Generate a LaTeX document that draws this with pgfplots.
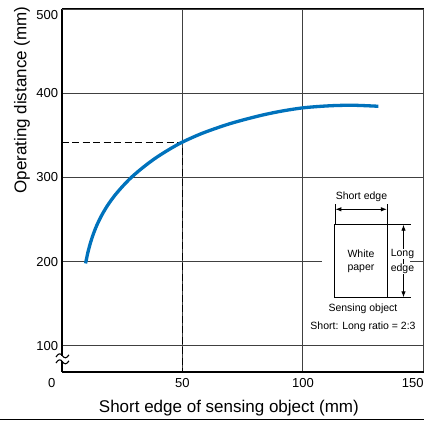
\documentclass[border=0pt]{standalone}
\usepackage{pgfplots}
\pgfplotsset{compat=1.18}
\usepackage{fontspec}
\setmainfont{Liberation Sans}
\usetikzlibrary{arrows.meta}
\definecolor{curveblue}{RGB}{0,114,188}
\newcommand{\insetfont}{\fontsize{10.5bp}{12bp}\selectfont}
\newcommand{\labelfont}{\fontsize{17bp}{20bp}\selectfont}
\begin{document}
\begin{tikzpicture}
\begin{axis}[
  scale only axis,
  width=361.8bp, height=362.6bp,
  xmin=0, xmax=150, ymin=69.4, ymax=500,
  xtick={0,50,100,150},
  xticklabels={\makebox[0pt][r]{0\hspace{6.4bp}},50,100,\makebox[0pt][r]{150}},
  ytick={100,200,300,400},
  extra y ticks={500},
  extra y tick style={yticklabel style={yshift=-6bp}},
  grid=major,
  major grid style={line width=0.9bp, black!75},
  axis x line*=box, axis y line*=left,
  axis line style={-, line width=1.8bp, black},
  major tick length=0pt,
  tick style={draw=none},
  /pgf/number format/assume math mode=true,
  ticklabel style={font=\fontsize{13bp}{15bp}\selectfont},
  xticklabel style={yshift=-3bp},
  every axis x label/.style={at={(axis description cs:0.462,-0.099)}, anchor=center, font=\labelfont},
  every axis y label/.style={at={(axis description cs:-0.1097,0.749)}, rotate=90, anchor=center, font=\labelfont},
  xlabel={Short edge of sensing object (mm)},
  ylabel={Operating distance (mm)},
  clip=false,
]
\addplot[black, line width=1.2bp, dash pattern=on 7bp off 3.5bp] coordinates {(0,342) (50,342) (50,69.4)};
\addplot[curveblue, line width=3.3bp, smooth, tension=0.5] coordinates {
(9.9,198) (10.8,210.3) (11.8,221.2) (13.0,231.9) (14.5,242.9) (16.5,254.7) (19.0,266.8)
(22.0,278.7) (25.5,290.3) (29.0,300.5) (33.5,311.5) (38.5,322.3) (44.0,332.4) (50,342)
(58.7,353) (69.8,364) (81.5,373) (90.5,378.5) (100.2,382.8)
(111.2,385.2) (120.9,385.8) (131.3,384.6)};
\coordinate (TL) at (rel axis cs:0,1);
\end{axis}
\begin{scope}[shift={(TL)}, xshift=-61.7bp, yshift=9.1bp, x=1bp, y=-1bp]
  % axis break
  \fill[white] (55.5,356.3) rectangle (69.5,361.3);
  \draw[line width=1.1bp] (56,357) .. controls (58.5,353) and (60.5,353) .. (62.5,355.8) .. controls (64.5,358.6) and (66.5,358.6) .. (69,354.8);
  \draw[line width=1.1bp] (56,363) .. controls (58.5,359) and (60.5,359) .. (62.5,361.8) .. controls (64.5,364.6) and (66.5,364.6) .. (69,360.8);
  % inset
  \fill[white] (322,187) rectangle (410,336);
  \node[font=\insetfont] at (361.5,197) {Short edge};
  \draw[line width=0.8bp] (335,204) -- (335,224.3) (387.3,204) -- (387.3,224.3);
  \draw[line width=0.9bp, {Latex[length=6bp,width=4.5bp]}-{Latex[length=6bp,width=4.5bp]}] (335.4,209.3) -- (386.9,209.3);
  \draw[line width=1bp] (335,224.3) rectangle (387.3,297.7);
  \node[font=\insetfont] at (361,254) {White};
  \node[font=\insetfont] at (361,269) {paper};
  \draw[line width=0.8bp] (387.3,224.3) -- (411,224.3) (387.3,297.7) -- (411,297.7);
  \draw[line width=0.9bp, {Latex[length=6bp,width=4.5bp]}-{Latex[length=6bp,width=4.5bp]}] (403.5,224.7) -- (403.5,297.3);
  \node[font=\insetfont, fill=white, inner sep=0.6bp] at (402.5,254) {Long};
  \node[font=\insetfont, fill=white, inner sep=0.6bp] at (402.5,269) {edge};
  \node[font=\insetfont] at (363,308.5) {Sensing object};
  \node[font=\insetfont] at (363,326.7) {Short: Long ratio = 2:3};
  % bottom rule
  \draw[line width=1.8bp] (0,419.5) -- (424,419.5);
  \pgfresetboundingbox
  \path[use as bounding box] (0,0) rectangle (424,421);
\end{scope}
\end{tikzpicture}
\end{document}
